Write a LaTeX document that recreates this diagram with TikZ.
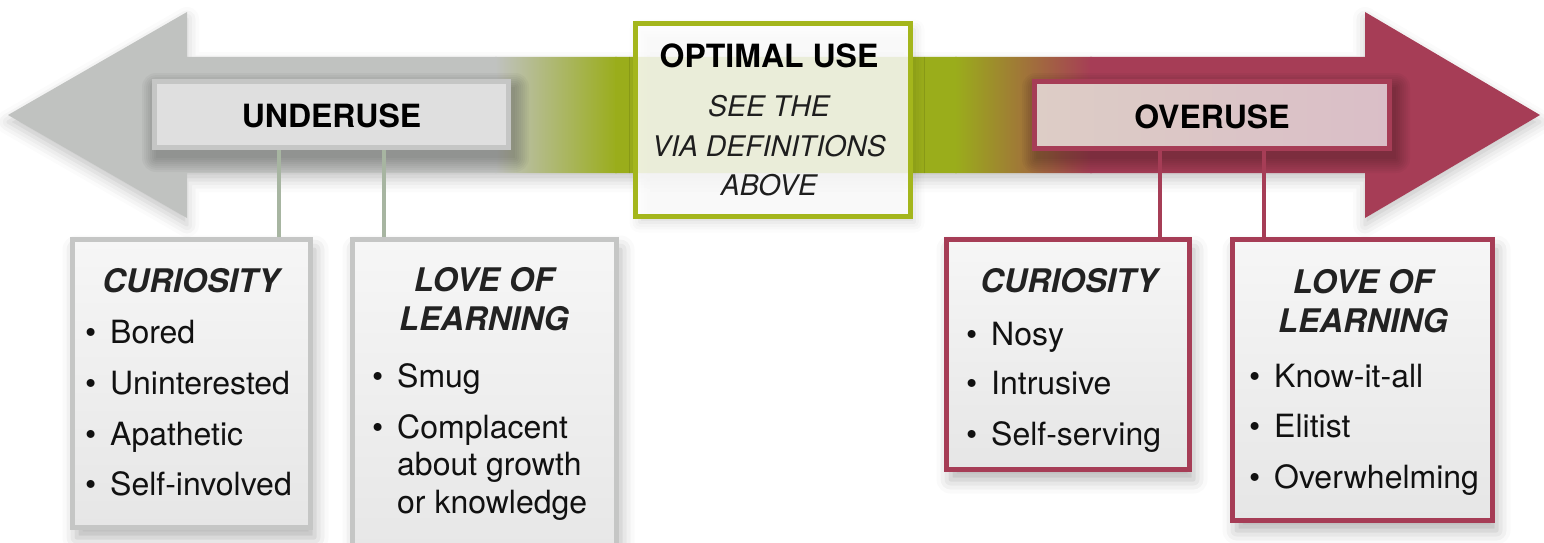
\documentclass[tikz,border=0pt]{standalone}
\usepackage{fontspec}
\setmainfont{TeX Gyre Heros}
\usetikzlibrary{shadows.blur}

\definecolor{armgray}{HTML}{C0C2C0}
\definecolor{midgreen}{HTML}{9AAD1B}
\definecolor{crimson}{HTML}{A63D56}
\definecolor{optborder}{HTML}{A4B61C}
\definecolor{grayborder}{HTML}{C5C6C5}
\definecolor{linkgray}{HTML}{A7B5A1}
\definecolor{boxtop}{HTML}{F6F6F6}
\definecolor{boxbot}{HTML}{E6E6E6}
\definecolor{underfill}{HTML}{DFDFDF}
\definecolor{overleft}{HTML}{DDCDC6}
\definecolor{overright}{HTML}{DABEC7}
\definecolor{titleink}{HTML}{222222}
\definecolor{itemink}{HTML}{111111}
\definecolor{subink}{HTML}{1E1E1E}

\newcommand\fsz[1]{\fontsize{#1}{#1}\selectfont}
\newcommand\bul{\makebox[25pt][l]{\textbullet}}

\tikzset{
  armshadow/.style={blur shadow={shadow xshift=0pt, shadow yshift=-7pt,
      shadow blur radius=12pt, shadow opacity=22}},
  boxshadow/.style={blur shadow={shadow xshift=4pt, shadow yshift=-10pt,
      shadow blur radius=14pt, shadow opacity=30}},
  softlayer/.style={fill=black, fill opacity=0.03},
  labelbox/.style={rectangle, line width=5pt, inner sep=0pt},
  listbox/.style={rectangle, line width=5pt, inner sep=0pt,
      top color=boxtop, bottom color=boxbot, boxshadow},
  toptext/.style={anchor=base, inner sep=0pt, font=\bfseries\fsz{32}},
  subtext/.style={anchor=base, inner sep=0pt, text=subink,
      font=\itshape\fsz{28.4}},
  titletext/.style={anchor=base, inner sep=0pt, text=titleink,
      font=\bfseries\itshape\fsz{32.5}},
  itemtext/.style={anchor=base west, inner sep=0pt, text=itemink,
      font=\fsz{32}},
  linkL/.style={draw=linkgray, line width=4pt},
  linkR/.style={draw=crimson, line width=4pt},
}

\begin{document}
\begin{tikzpicture}[x=1pt,y=-1pt]
\useasboundingbox (0,0) rectangle (1544,543);

% double-headed arrow: soft shadow, then the colour run clipped to its outline
\path[armshadow] (8,115) -- (187,12) -- (187,57) -- (1365,57) -- (1365,12)
  -- (1540,115) -- (1365,218) -- (1365,173) -- (187,173) -- (187,218) -- cycle;
\begin{scope}
  \clip (8,115) -- (187,12) -- (187,57) -- (1365,57) -- (1365,12)
    -- (1540,115) -- (1365,218) -- (1365,173) -- (187,173) -- (187,218) -- cycle;
  \fill[armgray] (0,0) rectangle (497,230);
  \shade[left color=armgray, right color=midgreen] (495,0) rectangle (617,230);
  \fill[midgreen] (615,0) rectangle (957,230);
  \shade[left color=midgreen, right color=crimson] (955,0) rectangle (1092,230);
  \fill[crimson] (1090,0) rectangle (1544,230);
  % soft shadows cast by the two labels onto the arrow
  \foreach \r in {0,2,...,14} {
    \fill[softlayer, rounded corners=\r pt] ({156-\r},{87-\r}) rectangle ({515+\r},{158+\r});
    \fill[softlayer, rounded corners=\r pt] ({1036-\r},{87-\r}) rectangle ({1396+\r},{159+\r});
  }
\end{scope}

% labels sitting on the arrow
\node[labelbox, draw=grayborder, fill=underfill,
      minimum width=354pt, minimum height=66pt] (ub) at (331.5,114.5) {};
\node[labelbox, draw=crimson, left color=overleft, right color=overright,
      minimum width=355pt, minimum height=67pt] (ob) at (1212,115) {};
\node[rectangle, line width=5pt, inner sep=0pt, draw=optborder, fill=white,
      fill opacity=0.84, minimum width=275pt, minimum height=193pt,
      blur shadow={shadow xshift=4pt, shadow yshift=-6pt,
      shadow blur radius=10pt, shadow opacity=18}] (opt) at (773,120) {};

% list boxes
\node[listbox, draw=grayborder, minimum width=238pt, minimum height=288pt]
  (cl) at (191.5,383.5) {};
\node[listbox, draw=grayborder, minimum width=264pt, minimum height=330pt]
  (ll) at (484.5,404.5) {};
\node[listbox, draw=crimson, minimum width=243pt, minimum height=230pt]
  (cr) at (1068,354.5) {};
\node[listbox, draw=crimson, minimum width=260pt, minimum height=281pt]
  (lr) at (1362.5,380) {};

% connectors from the arrow labels down to the lists
\coordinate (xa) at (279,0);
\coordinate (xb) at (384,0);
\coordinate (xc) at (1160,0);
\coordinate (xd) at (1264,0);
\draw[linkL] (ub.south -| xa) -- (cl.north -| xa);
\draw[linkL] (ub.south -| xb) -- (ll.north -| xb);
\draw[linkR] (ob.south -| xc) -- (cr.north -| xc);
\draw[linkR] (ob.south -| xd) -- (lr.north -| xd);

% arrow label texts
\node[toptext] (tu) at (331.5,127) {UNDERUSE};
\node[toptext] (to) at (1212,128) {OVERUSE};
\node[toptext] (tp) at (769,67) {OPTIMAL USE};
\node[subtext] (s1) at (769,116) {SEE THE};
\node[subtext] (s2) at (769,156) {VIA DEFINITIONS};
\node[subtext] (s3) at (769,195) {ABOVE};

% underuse: curiosity
\node[titletext] (clt) at (191,292) {CURIOSITY};
\node[itemtext] (cl1) at (85,343) {\bul Bored};
\node[itemtext] (cl2) at (85,394) {\bul Uninterested};
\node[itemtext] (cl3) at (85,445) {\bul Apathetic};
\node[itemtext] (cl4) at (85,495) {\bul Self-involved};

% underuse: love of learning
\node[titletext] (llt1) at (484,291) {LOVE OF};
\node[titletext] (llt2) at (484,330) {LEARNING};
\node[itemtext] (ll1) at (372,387) {\bul Smug};
\node[itemtext] (ll2) at (372,438) {\bul Complacent};
\node[itemtext] (ll2b) at (397,475) {about growth};
\node[itemtext] (ll2c) at (397,513) {or knowledge};

% overuse: curiosity
\node[titletext] (crt) at (1069,292) {CURIOSITY};
\node[itemtext] (cr1) at (966,345) {\bul Nosy};
\node[itemtext] (cr2) at (966,394) {\bul Intrusive};
\node[itemtext] (cr3) at (966,445) {\bul Self-serving};

% overuse: love of learning
\node[titletext] (lrt1) at (1363,293) {LOVE OF};
\node[titletext] (lrt2) at (1363,332) {LEARNING};
\node[itemtext] (lr1) at (1249,387) {\bul Know-it-all};
\node[itemtext] (lr2) at (1249,437) {\bul Elitist};
\node[itemtext] (lr3) at (1249,488) {\bul Overwhelming};
\end{tikzpicture}
\end{document}
